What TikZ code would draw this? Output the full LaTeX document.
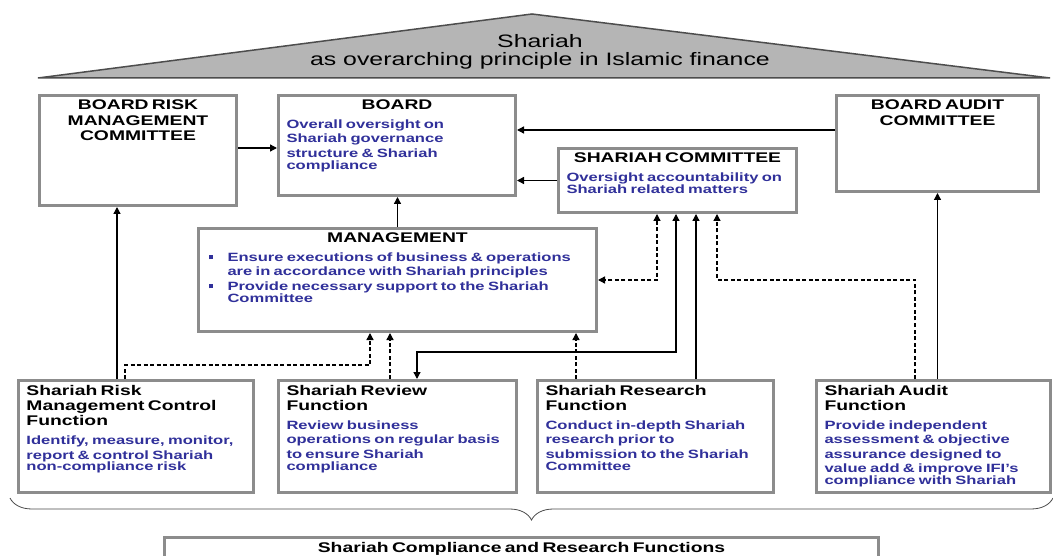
\documentclass[tikz,border=0pt]{standalone}
\usepackage{fontspec}
\setmainfont{Liberation Sans}[FakeStretch=1.38]
\usetikzlibrary{arrows.meta, decorations.pathreplacing}
\definecolor{framegray}{HTML}{8C8C8C}
\definecolor{roofgray}{HTML}{B5B5B5}
\definecolor{roofline}{HTML}{4D4D4D}
\definecolor{textblue}{HTML}{30309A}
\newcommand{\headfont}{\fontsize{14}{15.5}\selectfont\bfseries}
\newcommand{\bodyfont}{\fontsize{12}{14.5}\selectfont\bfseries}
\newcommand{\boxhead}[1]{{\centering\headfont #1\par}\vspace{4pt}}
\newcommand{\boxheadl}[1]{{\headfont #1\par}\vspace{4pt}}
\newcommand{\boxbody}{\color{textblue}\bodyfont}
\newcommand{\bul}{\makebox[21pt][l]{\hspace{2pt}\raisebox{2pt}{\rule{4.5pt}{4.5pt}}}}
\newcommand{\hang}{\hspace*{21pt}}

\begin{document}
\begin{tikzpicture}[
  x=1pt, y=-1pt,
  panel/.style={draw=framegray, line width=3pt, fill=white, anchor=north west,
                inner xsep=8pt, inner ysep=3.5pt, text height=11pt, align=left},
  arrow/.style={-{Triangle[length=7pt,width=7pt]}, line width=1.3pt},
  darrow/.style={arrow, dash pattern=on 4pt off 2.5pt},
  dblarrow/.style={{Triangle[length=7pt,width=7pt]}-{Triangle[length=7pt,width=7pt]},
                   line width=1.3pt},
  ddblarrow/.style={dblarrow, dash pattern=on 4pt off 2.5pt},
  roof/.style={fill=roofgray, draw=roofline, line width=1.5pt, line join=miter},
  brace/.style={decorate, decoration={brace, amplitude=22pt, mirror},
                draw=black!70, line width=0.8pt},
]
\clip (0,0) rectangle (1053,556);
\fill[white] (0,0) rectangle (1053,556);

%% Roof
\coordinate (roofL) at (38,78);
\coordinate (roofT) at (532,14);
\coordinate (roofR) at (1050,78);
\draw[roof] (roofL) -- (roofT) -- (roofR) -- cycle;
\node[font=\fontsize{18}{18.5}\selectfont, align=center] (shariah) at (540,52)
  {Shariah\\ as overarching principle in Islamic finance};

%% Board level
\node[panel, text width=181pt, text depth=92pt] (brmc) at (38,94)
  {\boxhead{BOARD RISK\\ MANAGEMENT\\ COMMITTEE}};
\node[panel, text width=221pt, text depth=82pt] (board) at (277,94)
  {\boxhead{BOARD}\boxbody Overall oversight on\\ Shariah governance\\
   structure \& Shariah\\ compliance};
\node[panel, text width=186pt, text depth=78pt] (bac) at (835,94)
  {\boxhead{BOARD AUDIT\\ COMMITTEE}};
\node[panel, text width=222pt, text depth=46pt] (sc) at (557,147)
  {\boxhead{SHARIAH COMMITTEE}\boxbody Oversight accountability on\\
   Shariah related matters};

%% Management
\node[panel, text width=382pt, text depth=85pt] (mgmt) at (197,227)
  {\boxhead{MANAGEMENT}\boxbody
   \bul Ensure executions of business \& operations\\
   \hang are in accordance with Shariah principles\\
   \bul Provide necessary support to the Shariah\\
   \hang Committee};

%% Functions
\node[panel, text width=219pt, text depth=94pt] (risk) at (17,379)
  {\boxheadl{Shariah Risk\\ Management Control\\ Function}\boxbody
   Identify, measure, monitor,\\ report \& control Shariah\\ non-compliance risk};
\node[panel, text width=222pt, text depth=94pt] (review) at (277,379)
  {\boxheadl{Shariah Review\\ Function}\boxbody
   Review business\\ operations on regular basis\\ to ensure Shariah\\ compliance};
\node[panel, text width=220pt, text depth=94pt] (research) at (536,379)
  {\boxheadl{Shariah Research\\ Function}\boxbody
   Conduct in-depth Shariah\\ research prior to\\ submission to the Shariah\\ Committee};
\node[panel, text width=218pt, text depth=94pt] (audit) at (815,379)
  {\boxheadl{Shariah Audit\\ Function}\boxbody
   Provide independent\\ assessment \& objective\\ assurance designed to\\
   value add \& improve IFI's\\ compliance with Shariah};

%% Brace and bottom box
\coordinate (braceL) at (10,498);
\coordinate (braceR) at (1053,498);
\draw[brace] (braceL) -- (braceR);
\node[panel, text width=698pt, text depth=30pt] (crf) at (163,536)
  {{\centering\headfont Shariah Compliance and Research Functions\par}};

%% Lanes
\coordinate (lvA) at (0,148);
\coordinate (lvB) at (0,130);
\coordinate (lvC) at (0,280);
\coordinate (rsA) at (117,0);
\coordinate (rsB) at (125,0);
\coordinate (rsC) at (390,0);
\coordinate (rsD) at (676,0);
\coordinate (rsE) at (657,0);
\coordinate (rsF) at (696,0);
\coordinate (rsG) at (915,0);
\coordinate (rsH) at (576,0);
\coordinate (jRisk) at (370,365);
\coordinate (jReview) at (417,352);
\coordinate (jAudit) at (717,280);

%% Arrows
\draw[arrow] (brmc.east |- lvA) -- (board.west |- lvA);
\draw[arrow] (bac.west |- lvB) -- (board.east |- lvB);
\draw[arrow] (sc.west) -- (sc.west -| board.east);
\draw[arrow] (mgmt.north) -- (mgmt.north |- board.south);
\draw[arrow] (risk.north -| rsA) -- (brmc.south -| rsA);
\draw[arrow] (bac.south |- audit.north) -- (bac.south);
\draw[darrow] (risk.north -| rsB) |- (jRisk) -- (mgmt.south -| jRisk);
\draw[darrow] (review.north -| rsC) -- (mgmt.south -| rsC);
\draw[dblarrow] (sc.south -| rsD) |- (jReview) -- (review.north -| jReview);
\draw[ddblarrow] (sc.south -| rsE) |- (mgmt.east |- lvC);
\draw[arrow] (research.north -| rsF) -- (sc.south -| rsF);
\draw[darrow] (audit.north -| rsG) |- (jAudit) -- (sc.south -| jAudit);
\draw[darrow] (research.north -| rsH) -- (mgmt.south -| rsH);

\end{tikzpicture}
\end{document}
